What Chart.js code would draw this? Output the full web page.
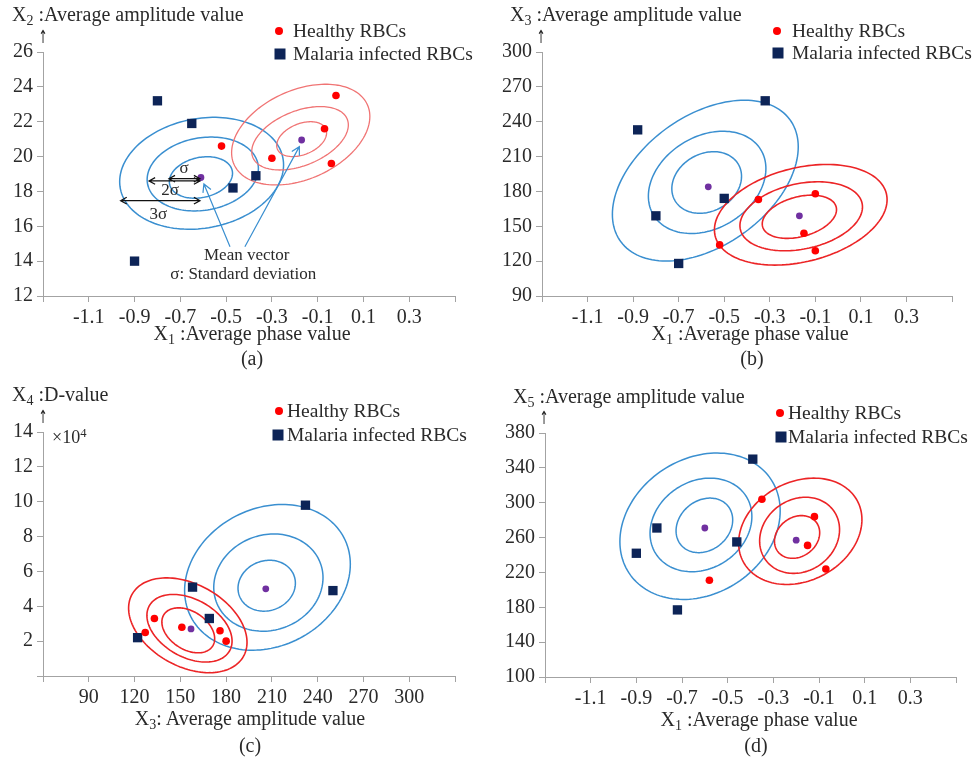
<!DOCTYPE html>
<html>
<head>
<meta charset="utf-8">
<script src="https://cdn.jsdelivr.net/npm/chart.js@4.4.1/dist/chart.umd.min.js"></script>
<style>
body { margin: 0; background: #fff; }
#fig { position: relative; width: 973px; height: 758px; font-family: "Liberation Serif", serif; color: #2a2a2a; }
canvas { position: absolute; }
.t { position: absolute; white-space: nowrap; line-height: 1; font-size: 20px; transform: translateY(-50%); }
.c { transform: translate(-50%, -50%); }
.lg { font-size: 19.5px; }
sub { font-size: 70%; vertical-align: -0.25em; line-height: 0; }
sup { font-size: 70%; vertical-align: 0.45em; line-height: 0; }
.dot { position: absolute; width: 8px; height: 8px; border-radius: 50%; background: #ff0000; transform: translate(-50%, -50%); }
.sq { position: absolute; width: 11px; height: 11px; background: #0d2457; transform: translate(-50%, -50%); }
.up { position: absolute; font-family: "DejaVu Sans", sans-serif; font-size: 18px; line-height: 1; transform: translate(-50%, -50%) scaleX(0.6); color: #222; }
</style>
</head>
<body>
<div id="fig">
  <canvas id="ca" width="486" height="380" style="left:0;top:0"></canvas>
  <canvas id="cb" width="487" height="380" style="left:486px;top:0"></canvas>
  <canvas id="cc" width="486" height="378" style="left:0;top:380px"></canvas>
  <canvas id="cd" width="487" height="378" style="left:486px;top:380px"></canvas>

  <!-- (a) -->
  <div class="t" style="left:12px;top:14px">X<sub>2</sub> :Average amplitude value</div>
  <div class="up" style="left:43px;top:37px">↑</div>
  <i class="dot" style="left:279px;top:31px"></i><div class="t lg" style="left:293px;top:31px">Healthy RBCs</div>
  <i class="sq" style="left:280px;top:54px"></i><div class="t lg" style="left:293px;top:54px">Malaria infected RBCs</div>
  <div class="t c" style="left:252px;top:333px">X<sub>1</sub> :Average phase value</div>
  <div class="t c" style="left:252px;top:358px">(a)</div>

  <!-- (b) -->
  <div class="t" style="left:510px;top:14px">X<sub>3</sub> :Average amplitude value</div>
  <div class="up" style="left:541px;top:37px">↑</div>
  <i class="dot" style="left:777px;top:31px"></i><div class="t lg" style="left:792px;top:31px">Healthy RBCs</div>
  <i class="sq" style="left:778px;top:53px"></i><div class="t lg" style="left:792px;top:53px">Malaria infected RBCs</div>
  <div class="t c" style="left:750px;top:333px">X<sub>1</sub> :Average phase value</div>
  <div class="t c" style="left:752px;top:358px">(b)</div>

  <!-- (c) -->
  <div class="t" style="left:12px;top:394px">X<sub>4</sub> :D-value</div>
  <div class="up" style="left:43px;top:417px">↑</div>
  <div class="t" style="left:52px;top:437px;font-size:18px">×10<sup>4</sup></div>
  <i class="dot" style="left:279px;top:411px"></i><div class="t lg" style="left:287px;top:411px">Healthy RBCs</div>
  <i class="sq" style="left:278px;top:435px"></i><div class="t lg" style="left:287px;top:435px">Malaria infected RBCs</div>
  <div class="t c" style="left:250px;top:718px">X<sub>3</sub>: Average amplitude value</div>
  <div class="t c" style="left:250px;top:745px">(c)</div>

  <!-- (d) -->
  <div class="t" style="left:513px;top:396px">X<sub>5</sub> :Average amplitude value</div>
  <div class="up" style="left:544px;top:418px">↑</div>
  <i class="dot" style="left:780px;top:413px"></i><div class="t lg" style="left:788px;top:413px">Healthy RBCs</div>
  <i class="sq" style="left:781px;top:437px"></i><div class="t lg" style="left:788px;top:437px">Malaria infected RBCs</div>
  <div class="t c" style="left:759px;top:719px">X<sub>1</sub> :Average phase value</div>
  <div class="t c" style="left:756px;top:745px">(d)</div>
</div>

<script>
// tick values and labels
const phaseTicks = [-1.3, -1.1, -0.9, -0.7, -0.5, -0.3, -0.1, 0.1, 0.3, 0.5];
const phaseLabels = ['', '-1.1', '-0.9', '-0.7', '-0.5', '-0.3', '-0.1', '0.1', '0.3', ''];
const x2Ticks = [12, 14, 16, 18, 20, 22, 24, 26];
const x3Ticks = [90, 120, 150, 180, 210, 240, 270, 300];
const x3TicksC = [60, 90, 120, 150, 180, 210, 240, 270, 300, 330];
const x3LabelsC = ['', '90', '120', '150', '180', '210', '240', '270', '300', ''];
const x4Ticks = [0, 2, 4, 6, 8, 10, 12, 14];
const x4Labels = ['', '2', '4', '6', '8', '10', '12', '14'];
const x5Ticks = [100, 140, 180, 220, 260, 300, 340, 380];

// (a) X1 vs X2
const healthyA = [[-0.52, 20.6], [-0.30, 19.9], [-0.07, 21.6], [-0.02, 23.5], [-0.04, 19.6]];
const malariaA = [[-0.80, 23.2], [-0.65, 21.9], [-0.37, 18.9], [-0.47, 18.2], [-0.90, 14.0]];
const meansA = [[-0.61, 18.8], [-0.17, 20.95]];
// rings: [centre x, centre y, half width, half height, tilt]
const malariaRingsA = [[-0.61, 18.8, 0.138, 1.19, 0.2], [-0.602, 19.0, 0.243, 2.12, 0.15], [-0.607, 19.04, 0.358, 3.21, 0.15]];
const healthyRingsA = [[-0.17, 21.0, 0.109, 1.0, 0.36], [-0.177, 21.05, 0.211, 1.82, 0.42], [-0.174, 21.26, 0.302, 2.89, 0.36]];

// (b) X1 vs X3
const healthyB = [[-0.35, 173], [-0.10, 178], [-0.15, 144], [-0.52, 134], [-0.10, 129]];
const malariaB = [[-0.88, 233], [-0.32, 258], [-0.50, 174], [-0.80, 159], [-0.70, 118]];
const meansB = [[-0.57, 184], [-0.17, 159]];
const malariaRingsB = [[-0.577, 187.7, 0.153, 26.5, 0.2], [-0.575, 187.8, 0.258, 44, 0.27], [-0.583, 189.3, 0.408, 69.2, 0.42]];
const healthyRingsB = [[-0.17, 158.2, 0.163, 18.6, 0.33], [-0.162, 158.6, 0.269, 29.7, 0.27], [-0.164, 159.9, 0.379, 43.3, 0.3]];

// (c) X3 vs X4 (x10^4)
const healthyC = [[127, 2.5], [133, 3.3], [151, 2.8], [176, 2.6], [180, 2.0]];
const malariaC = [[122, 2.2], [158, 5.1], [169, 3.3], [232, 9.8], [250, 4.9]];
const meansC = [[157, 2.7], [206, 5.0]];
const malariaRingsC = [[206.6, 5.18, 18.8, 1.46, 0.1], [207.7, 5.36, 35.8, 2.79, 0.1], [207.1, 5.66, 54.3, 4.18, 0.18]];
const healthyRingsC = [[155.2, 2.62, 17.3, 1.29, -0.37], [156, 2.74, 27.9, 1.94, -0.38], [154.9, 2.91, 38.8, 2.72, -0.36]];

// (d) X1 vs X5
const healthyD = [[-0.35, 304], [-0.12, 284], [-0.15, 251], [-0.07, 224], [-0.58, 211]];
const malariaD = [[-0.39, 350], [-0.81, 271], [-0.90, 242], [-0.46, 255], [-0.72, 177]];
const meansD = [[-0.60, 271], [-0.20, 257]];
const malariaRingsD = [[-0.602, 274, 0.124, 31.3, 0.2], [-0.617, 274.5, 0.223, 53.7, 0.18], [-0.621, 273, 0.351, 84, 0.21]];
const healthyRingsD = [[-0.196, 260.7, 0.099, 24.5, 0.2], [-0.185, 262.6, 0.175, 43.7, 0.15], [-0.182, 267.2, 0.27, 61, 0.22]];

// (a) annotation: sigma arrows [x from, x to, y], labels, mean-vector pointers
const sigmaArrows = [[-0.75, -0.614, 18.73], [-0.837, -0.614, 18.6], [-0.961, -0.614, 17.47]];
const sigmaNotes = [['σ', -0.684, 19.33], ['2σ', -0.745, 18.04], ['3σ', -0.796, 16.7]];
const meanPointers = [[-0.483, 14.83, -0.597, 18.43], [-0.418, 14.83, -0.18, 20.57]];
const meanNotes = [['Mean vector', -0.41, 14.35], ['σ: Standard deviation', -0.425, 13.25]];

const BLUE = '#3a8fd0';
const AXIS = '#a3a3a3';
const tickFont = { family: 'Liberation Serif', size: 20 };

function ringsPlugin(sets) {
    return {
        id: 'rings',
        beforeDatasetsDraw(chart) {
            const { ctx, scales: { x, y } } = chart;
            ctx.save();
            sets.forEach(set => {
                ctx.strokeStyle = set.color;
                ctx.lineWidth = set.width;
                set.rings.forEach(([cx, cy, w, h, tilt]) => {
                    const phi = Math.asin(tilt);
                    ctx.beginPath();
                    for (let i = 0; i <= 144; i++) {
                        const t = i / 144 * Math.PI * 2;
                        const px = x.getPixelForValue(cx + w * Math.cos(t));
                        const py = y.getPixelForValue(cy + h * Math.sin(t + phi));
                        if (i) ctx.lineTo(px, py); else ctx.moveTo(px, py);
                    }
                    ctx.closePath();
                    ctx.stroke();
                });
            });
            ctx.restore();
        }
    };
}

function head(ctx, x0, y0, x1, y1, len) {
    const a = Math.atan2(y1 - y0, x1 - x0);
    ctx.moveTo(x1 - len * Math.cos(a - 0.5), y1 - len * Math.sin(a - 0.5));
    ctx.lineTo(x1, y1);
    ctx.lineTo(x1 - len * Math.cos(a + 0.5), y1 - len * Math.sin(a + 0.5));
}

// sigma and mean vector notes on panel (a)
const notesPlugin = {
    id: 'notes',
    afterDatasetsDraw(chart) {
        const { ctx, scales: { x, y } } = chart;
        ctx.save();
        ctx.lineWidth = 1.2;
        ctx.strokeStyle = '#111';
        ctx.beginPath();
        sigmaArrows.forEach(([a, b, v]) => {
            const x0 = x.getPixelForValue(a), x1 = x.getPixelForValue(b), py = y.getPixelForValue(v);
            ctx.moveTo(x0, py); ctx.lineTo(x1, py);
            head(ctx, x0, py, x1, py, 7);
            head(ctx, x1, py, x0, py, 7);
        });
        ctx.stroke();
        ctx.strokeStyle = BLUE;
        ctx.beginPath();
        meanPointers.forEach(([a, b, c, d]) => {
            const x0 = x.getPixelForValue(a), y0 = y.getPixelForValue(b);
            const x1 = x.getPixelForValue(c), y1 = y.getPixelForValue(d);
            ctx.moveTo(x0, y0); ctx.lineTo(x1, y1);
            head(ctx, x0, y0, x1, y1, 9);
        });
        ctx.stroke();
        ctx.fillStyle = '#2a2a2a';
        ctx.textAlign = 'center';
        ctx.textBaseline = 'middle';
        ctx.font = '17px "Liberation Serif"';
        sigmaNotes.concat(meanNotes).forEach(([txt, a, b]) => {
            ctx.fillText(txt, x.getPixelForValue(a), y.getPixelForValue(b));
        });
        ctx.restore();
    }
};

function pts(list) {
    return list.map(([x, y]) => ({ x, y }));
}

function axis(ticks, labels, fit) {
    return {
        type: 'linear',
        min: ticks[0],
        max: ticks[ticks.length - 1],
        afterBuildTicks: s => { s.ticks = ticks.map(v => ({ value: v })); },
        afterFit: fit,
        ticks: {
            autoSkip: false,
            maxRotation: 0,
            padding: 4,
            color: '#2a2a2a',
            font: tickFont,
            callback: (v, i) => labels ? labels[i] : String(v)
        },
        grid: { drawOnChartArea: false, tickLength: 6, color: AXIS },
        border: { color: AXIS }
    };
}

function panel(id, p) {
    const plugins = [ringsPlugin([
        { rings: p.malariaRings, color: BLUE, width: 1.5 },
        { rings: p.healthyRings, color: p.redRing, width: p.redWidth }
    ])];
    if (p.notes) plugins.push(notesPlugin);
    new Chart(document.getElementById(id), {
        type: 'scatter',
        data: {
            datasets: [
                { data: pts(p.healthy), pointStyle: 'circle', pointRadius: 3.8, backgroundColor: '#ff0000', borderWidth: 0 },
                { data: pts(p.malaria), pointStyle: 'rect', pointRadius: 6.6, backgroundColor: '#0d2457', borderWidth: 0 },
                { data: pts(p.means), pointStyle: 'circle', pointRadius: 3.4, backgroundColor: '#7030a0', borderWidth: 0 }
            ]
        },
        options: {
            responsive: false,
            animation: false,
            events: [],
            layout: { padding: { top: p.top, right: p.right, bottom: 0, left: 0 } },
            plugins: { legend: { display: false }, tooltip: { enabled: false } },
            scales: {
                x: axis(p.xTicks, p.xLabels, s => { s.height = p.xh; }),
                y: axis(p.yTicks, p.yLabels, s => { s.width = p.yw; })
            }
        },
        plugins: plugins
    });
}

panel('ca', {
    healthy: healthyA, malaria: malariaA, means: meansA,
    malariaRings: malariaRingsA, healthyRings: healthyRingsA, redRing: '#f07474', redWidth: 1.3,
    xTicks: phaseTicks, xLabels: phaseLabels, yTicks: x2Ticks, yLabels: null,
    top: 52, right: 31, xh: 84, yw: 43, notes: true
});
panel('cb', {
    healthy: healthyB, malaria: malariaB, means: meansB,
    malariaRings: malariaRingsB, healthyRings: healthyRingsB, redRing: '#ec2426', redWidth: 1.6,
    xTicks: phaseTicks, xLabels: phaseLabels, yTicks: x3Ticks, yLabels: null,
    top: 52, right: 21, xh: 84, yw: 56
});
panel('cc', {
    healthy: healthyC, malaria: malariaC, means: meansC,
    malariaRings: malariaRingsC, healthyRings: healthyRingsC, redRing: '#ec2426', redWidth: 1.6,
    xTicks: x3TicksC, xLabels: x3LabelsC, yTicks: x4Ticks, yLabels: x4Labels,
    top: 52, right: 31, xh: 82, yw: 43
});
panel('cd', {
    healthy: healthyD, malaria: malariaD, means: meansD,
    malariaRings: malariaRingsD, healthyRings: healthyRingsD, redRing: '#ec2426', redWidth: 1.6,
    xTicks: phaseTicks, xLabels: phaseLabels, yTicks: x5Ticks, yLabels: null,
    top: 53, right: 17, xh: 81, yw: 59
});
</script>
</body>
</html>
